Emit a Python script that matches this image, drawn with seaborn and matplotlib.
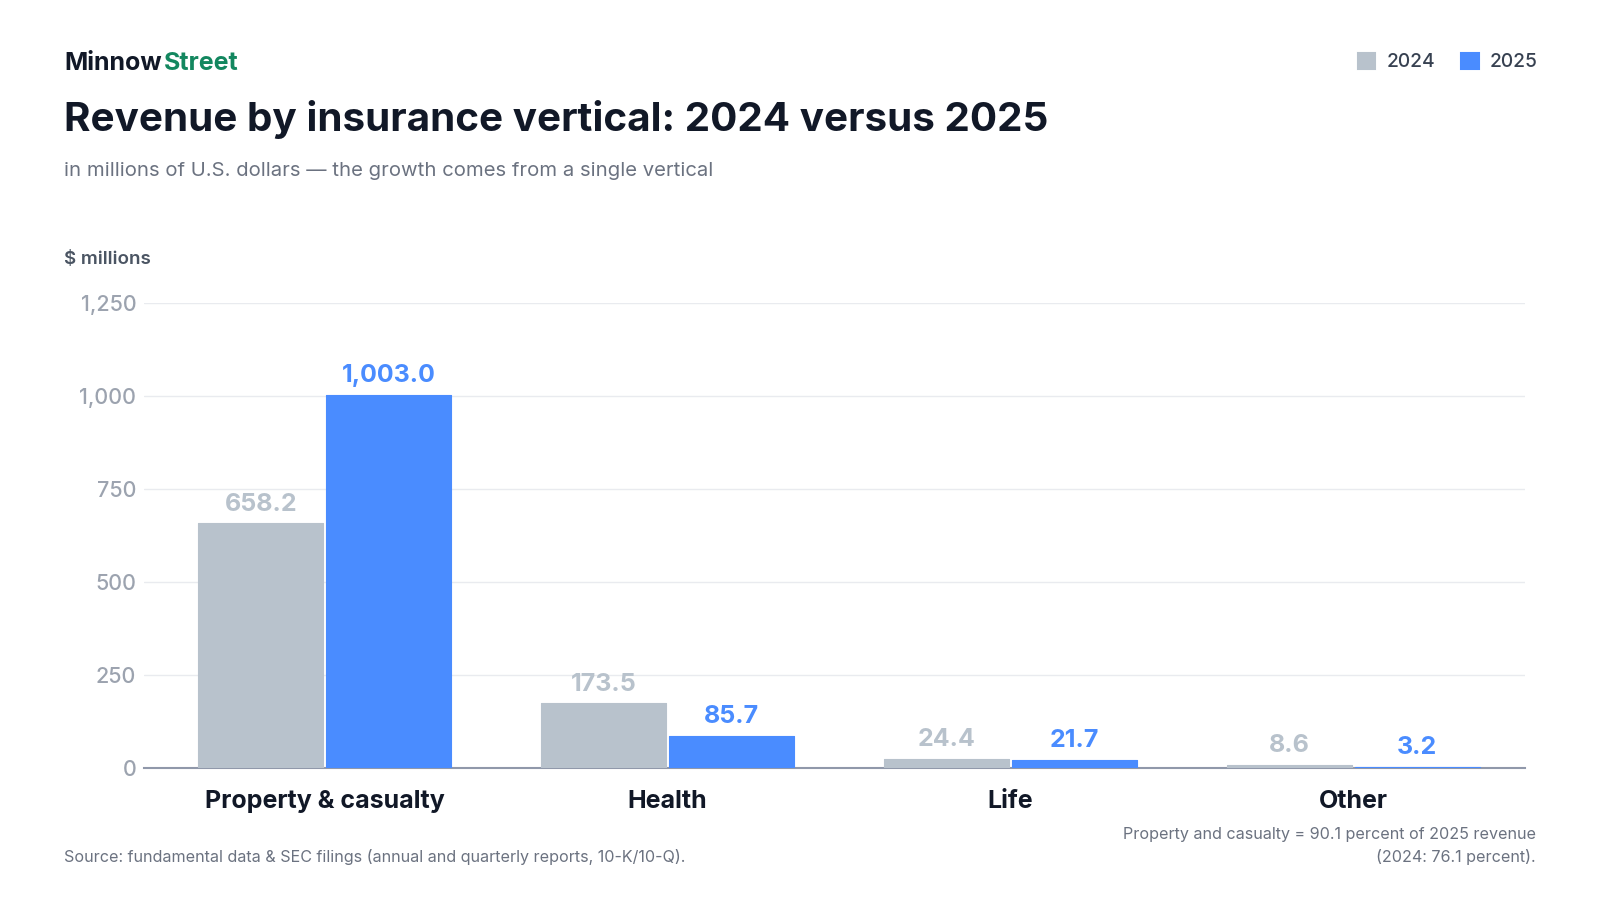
import pandas as pd
import seaborn as sns
import matplotlib.pyplot as plt
from matplotlib.patches import Patch

categories = ['Property & casualty', 'Health', 'Life', 'Other']
rev_2024 = [658.2, 173.5, 24.4, 8.6]
rev_2025 = [1003.0, 85.7, 21.7, 3.2]
years = ['2024', '2025']
yticks = [0, 250, 500, 750, 1000, 1250]

gray = '#b8c2cc'
blue = '#4a8cff'
dark = '#111827'
muted = '#6b7280'

df = pd.DataFrame({
    'vertical': categories * 2,
    'year': ['2024'] * 4 + ['2025'] * 4,
    'revenue': rev_2024 + rev_2025,
})

sns.set_theme(style='white')
plt.rcParams['font.family'] = ['Inter', 'DejaVu Sans']

fig = plt.figure(figsize=(16, 9), dpi=100)
# axes box in figure fractions (0 line at ~768px, 1,250 at ~303px)
ax = fig.add_axes([0.090, 0.1467, 0.863, 0.5166])

sns.barplot(data=df, x='vertical', y='revenue', hue='year', palette=[gray, blue],
            width=0.745, gap=0.02, ax=ax, legend=False, saturation=1, zorder=3)

# thin same-colour edge so the tiny bars still show on the baseline
for cont, col in zip(ax.containers, [gray, blue]):
    for b in cont:
        b.set_edgecolor(col)
        b.set_linewidth(0.8)
        b.set_joinstyle('round')

ax.set_ylim(0, 1250)
ax.set_xlim(-0.527, 3.5)
ax.set_yticks(yticks)
ax.set_yticklabels([f'{v:,}' for v in yticks], fontsize=15.5, color='#9ca3af', fontweight='medium')
ax.tick_params(axis='y', length=0, pad=5.5)
ax.tick_params(axis='x', length=0, pad=16)
ax.set_xticks(range(len(categories)))
ax.set_xticklabels(categories, fontsize=18, fontweight='bold', color=dark)
ax.set_xlabel('')
ax.set_ylabel('')
ax.grid(axis='y', color='#e9ebef', linewidth=1)
ax.set_axisbelow(True)
for s in ['top', 'right', 'left']:
    ax.spines[s].set_visible(False)
ax.spines['bottom'].set_color('#9098aa')
ax.spines['bottom'].set_linewidth(1.5)
ax.spines['bottom'].set_zorder(2.5)

for cont, col in zip(ax.containers, [gray, blue]):
    labels = [f'{b.get_height():,.1f}' for b in cont]
    ax.bar_label(cont, labels=labels, padding=5.5, fontsize=18, fontweight='bold', color=col)

fig.text(0.040, 0.930, 'Minnow', fontsize=18, fontweight='bold', color=dark, va='center')
fig.text(0.1025, 0.930, 'Street', fontsize=18, fontweight='bold', color='#13875f', va='center')
fig.text(0.040, 0.8667, 'Revenue by insurance vertical: 2024 versus 2025', fontsize=29.1,
         fontweight='bold', color=dark, va='center')
fig.text(0.040, 0.810, 'in millions of U.S. dollars \u2014 the growth comes from a single vertical',
         fontsize=14.6, color=muted, va='center')
fig.text(0.040, 0.712, '$ millions', fontsize=13.5, fontweight='semibold', color='#4b5563', va='center')

handles = [Patch(facecolor=gray, edgecolor=gray, linewidth=1.5, joinstyle='round', label=years[0]),
           Patch(facecolor=blue, edgecolor=blue, linewidth=1.5, joinstyle='round', label=years[1])]
fig.legend(handles=handles, loc='center right', bbox_to_anchor=(0.972, 0.931), ncol=2,
           frameon=False, handlelength=0.9, handleheight=0.9,
           handletextpad=0.6, columnspacing=1.35, labelcolor='#374151',
           prop={'family': ['Inter', 'DejaVu Sans'], 'weight': 'medium', 'size': 13.8})

fig.text(0.040, 0.048, 'Source: fundamental data & SEC filings (annual and quarterly reports, 10-K/10-Q).',
         fontsize=11.6, color=muted, va='center')
fig.text(0.960, 0.0733, 'Property and casualty = 90.1 percent of 2025 revenue',
         fontsize=11.6, color=muted, va='center', ha='right')
fig.text(0.960, 0.048, '(2024: 76.1 percent).', fontsize=11.6, color=muted, va='center', ha='right')

fig.savefig('out.png', dpi=100, facecolor='white')
